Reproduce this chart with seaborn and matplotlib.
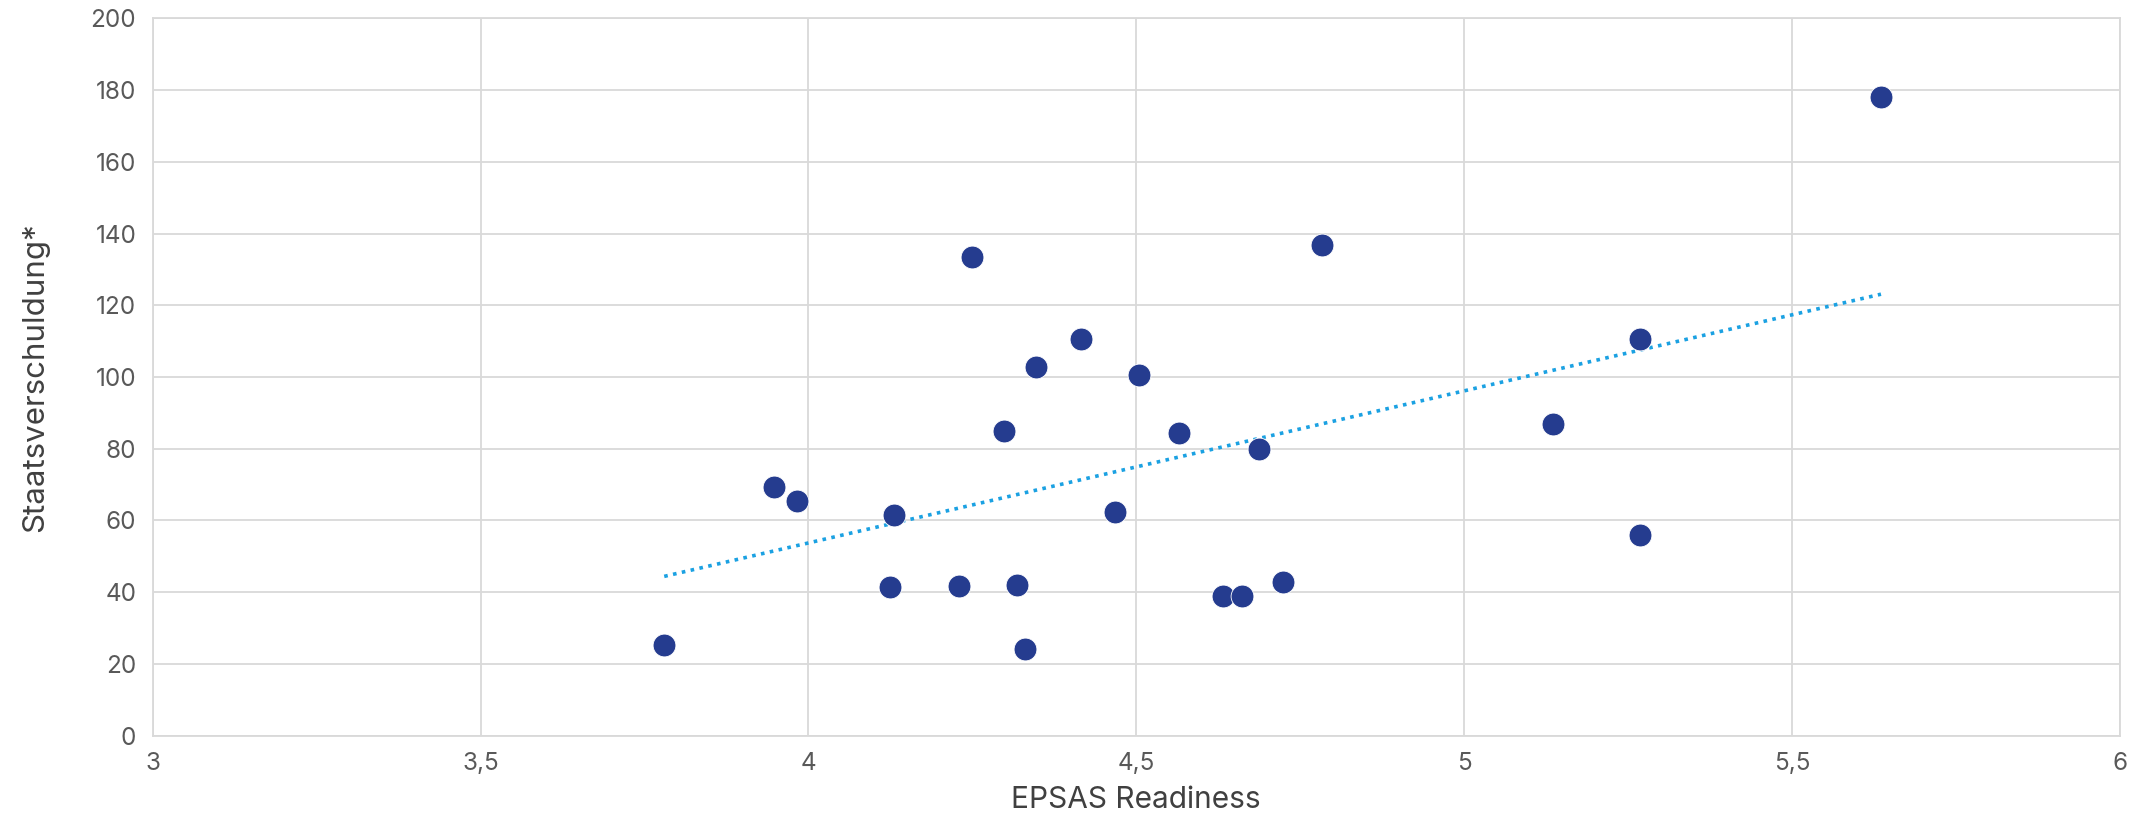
import numpy as np
import pandas as pd
import matplotlib
matplotlib.use("Agg")
import matplotlib.pyplot as plt
import seaborn as sns
from matplotlib.ticker import FuncFormatter, MultipleLocator

# EPSAS readiness vs. public debt
readiness = [3.78, 3.947, 3.983, 4.131, 4.125, 4.230, 4.249, 4.299, 4.318, 4.330, 4.347, 4.416,
             4.467, 4.504, 4.565, 4.632, 4.661, 4.687, 4.724, 4.783, 5.135, 5.269, 5.269, 5.636]
debt = [25.2, 69.2, 65.4, 61.6, 41.3, 41.7, 133.5, 84.9, 42.1, 24.1, 102.9, 110.5,
        62.3, 100.6, 84.5, 39.0, 39.0, 79.9, 42.8, 136.9, 86.8, 110.5, 55.8, 178.2]

df = pd.DataFrame({'readiness': readiness, 'debt': debt})

sns.set_style("white")
plt.rcParams['font.family'] = ['Inter', 'DejaVu Sans']

fig, ax = plt.subplots(figsize=(21.53, 8.34), dpi=100)
fig.subplots_adjust(left=0.071, right=0.9845, top=0.978, bottom=0.118)

# linear trend line (dotted), drawn over the data range
slope, intercept = np.polyfit(df['readiness'], df['debt'], 1)
xs = np.array([df['readiness'].min(), df['readiness'].max()])
ax.plot(xs, slope * xs + intercept, color='#1BA1E2', linestyle=(0, (1, 1.5)), linewidth=2.6, zorder=2)

sns.scatterplot(data=df, x='readiness', y='debt', ax=ax, s=270, color='#253C8F',
                edgecolor='white', linewidth=0.6, zorder=3)

ax.set_xlim(3, 6)
ax.set_ylim(0, 200)
ax.xaxis.set_major_locator(MultipleLocator(0.5))
ax.yaxis.set_major_locator(MultipleLocator(20))
ax.xaxis.set_major_formatter(FuncFormatter(lambda v, p: f"{v:g}".replace('.', ',')))
ax.grid(True, color='#D9D9D9', linewidth=1.3)
ax.set_axisbelow(True)
for s in ax.spines.values():
    s.set_color('#D9D9D9')
    s.set_linewidth(1.3)

ax.tick_params(axis='both', length=0, labelsize=17.5, labelcolor='#595959', pad=12)
ax.set_xlabel('EPSAS Readiness', fontsize=21.5, color='#404040', labelpad=8)
ax.set_ylabel('Staatsverschuldung*', fontsize=22.5, color='#404040', labelpad=30)

fig.savefig('out.png', dpi=100)
